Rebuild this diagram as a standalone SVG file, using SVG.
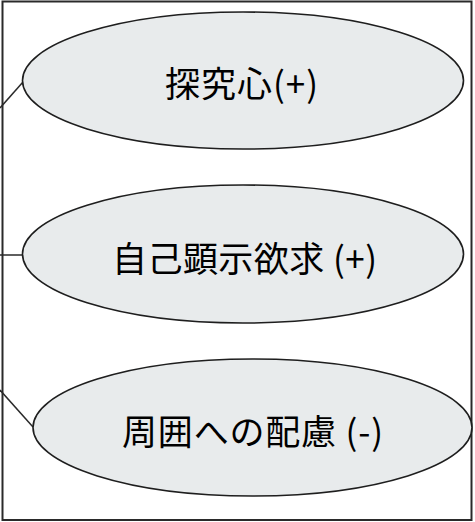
<svg xmlns="http://www.w3.org/2000/svg" width="475" height="522" viewBox="0 0 475 522">
<style>
.frame{fill:#fff;stroke:#2a2a2a;stroke-width:2}
.node ellipse{fill:#e8ebec;stroke:#1e1e1e;stroke-width:1.6}
.node text{font-family:"Noto Sans CJK JP","Noto Sans",sans-serif;font-size:35px;font-weight:400;fill:#000;text-anchor:middle;dominant-baseline:central}
.conn line{stroke:#2a2a2a;stroke-width:1.5}
</style>
<rect class="frame" x="2.5" y="1.5" width="469" height="518.5"/>
<g id="connectors" class="conn">
<line x1="0" y1="108" x2="23" y2="82"/>
<line x1="0" y1="255" x2="23" y2="255"/>
<line x1="0" y1="390" x2="33" y2="427"/>
</g>
<g id="node1" class="node">
<ellipse cx="243" cy="80.5" rx="220.5" ry="68.5"/>
<text x="241.5" y="81" textLength="153" lengthAdjust="spacing">探究心(+)</text>
</g>
<g id="node2" class="node">
<ellipse cx="243" cy="254" rx="220.5" ry="69"/>
<text x="244.5" y="256" textLength="265" lengthAdjust="spacing">自己顕示欲求 (+)</text>
</g>
<g id="node3" class="node">
<ellipse cx="252.5" cy="427.5" rx="219.5" ry="68.5"/>
<text x="252.5" y="429" textLength="261" lengthAdjust="spacing">周囲への配慮 (-)</text>
</g>
</svg>
